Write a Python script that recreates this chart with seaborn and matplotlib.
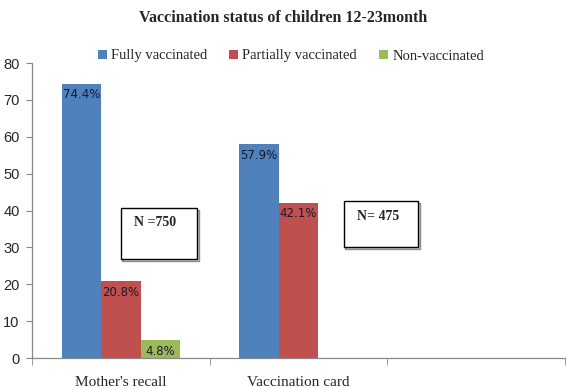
import numpy as np
import pandas as pd
import matplotlib
matplotlib.use("Agg")
import matplotlib.pyplot as plt
import matplotlib.patches as patches
import seaborn as sns

# --- data ---
sources = ["Mother's recall", "Vaccination card", ""]
statuses = ["Fully vaccinated", "Partially vaccinated", "Non-vaccinated"]
fully = [74.4, 57.9, np.nan]
partially = [20.8, 42.1, np.nan]
non_vacc = [4.8, np.nan, np.nan]
sample_sizes = ["N =750", "N= 475"]

colors = ["#4F81BD", "#C0504D", "#9BBB59"]

df = pd.DataFrame({
    "source": sources * 3,
    "status": np.repeat(statuses, len(sources)),
    "value": fully + partially + non_vacc,
})

sns.set_style("white")
plt.rcParams["font.family"] = ["Liberation Sans", "DejaVu Sans"]

fig = plt.figure(figsize=(5.67, 3.88), dpi=100)
ax = fig.add_axes([32 / 567, 1 - 358 / 388, 533 / 567, 295 / 388])

sns.barplot(data=df, x="source", y="value", hue="status", order=sources,
            hue_order=statuses, palette=colors, width=0.667, gap=0,
            saturation=1, linewidth=0, ax=ax, legend=False)

# value labels inside top of bars
for cont in ax.containers:
    for bar in cont:
        h = bar.get_height()
        if np.isnan(h) or h == 0:
            continue
        ax.text(bar.get_x() + bar.get_width() / 2, h - 1.2, f"{h:.1f}%",
                ha="center", va="top", fontsize=8.5, color="#1a1a2e",
                family=["Verdana", "DejaVu Sans"])

ax.set_ylim(0, 80)
ax.set_xlim(-0.5, 2.5)
ax.set_yticks(range(0, 81, 10))
ax.set_xlabel("")
ax.set_ylabel("")
ax.tick_params(axis="y", labelsize=10.5, length=4, color="#888888", direction="out",
               left=True, pad=5)
ax.tick_params(axis="x", which="major", length=0, pad=13)
for lab in ax.get_xticklabels():
    lab.set_family(["Liberation Serif", "DejaVu Serif"])
    lab.set_fontsize(11)
ax.set_xticks([-0.5, 0.5, 1.5, 2.5], minor=True)
ax.tick_params(axis="x", which="minor", length=5, color="#888888", direction="out", bottom=True)
for s in ["top", "right"]:
    ax.spines[s].set_visible(False)
for s in ["left", "bottom"]:
    ax.spines[s].set_color("#888888")
    ax.spines[s].set_linewidth(0.9)

# sample size boxes
boxes = [(0.0, 26.8, 0.43, 13.9, 0.19, 36.8), (1.256, 30.1, 0.417, 12.5, 1.447, 38.4)]
for (bx, by, bw, bh, tx, ty), txt in zip(boxes, sample_sizes):
    rect = patches.Rectangle((bx, by), bw, bh, facecolor="white", edgecolor="black",
                             linewidth=1.0, zorder=5)
    shadow = patches.Shadow(rect, 0.006, -0.35, facecolor="#b8b8b8", alpha=0.6, zorder=4)
    ax.add_patch(shadow)
    ax.add_patch(rect)
    ax.text(tx, ty, txt, ha="center", va="center", fontsize=10, fontweight="bold",
            family=["Liberation Serif", "DejaVu Serif"], zorder=6)

# legend
handles = [patches.Patch(facecolor=c, edgecolor="none", label=s) for c, s in zip(colors, statuses)]
fig.legend(handles=handles, loc="center", bbox_to_anchor=(291 / 567, 1 - 56 / 388), ncol=3,
           frameon=False, handlelength=0.6, handleheight=0.6, handletextpad=0.3,
           columnspacing=1.5, prop={"family": ["Liberation Serif", "DejaVu Serif"], "size": 10.5})

fig.text(0.5, 1 - 18 / 388, "Vaccination status of children 12-23month", ha="center",
         va="center", fontsize=11.5, fontweight="bold", family=["Liberation Serif", "DejaVu Serif"])

fig.savefig("out.png", dpi=100)
